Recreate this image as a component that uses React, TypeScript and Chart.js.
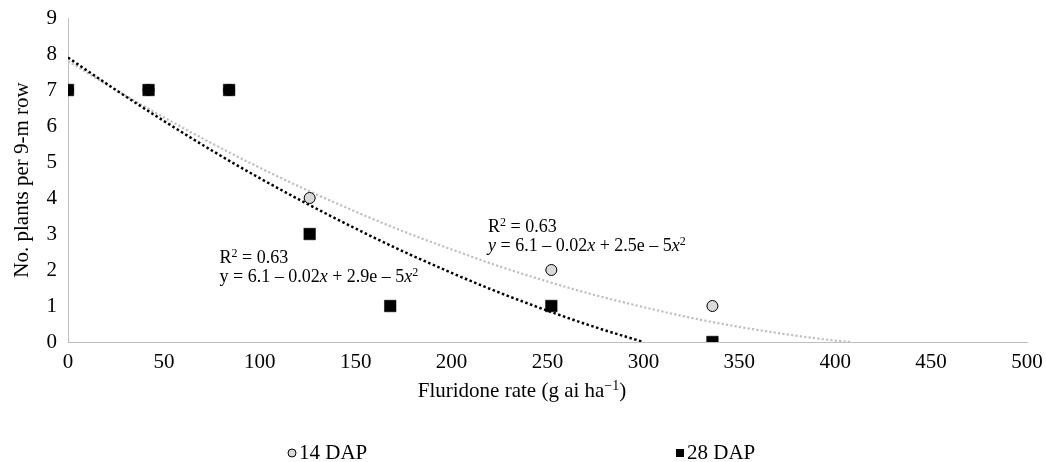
import React, { useEffect, useRef } from "react";
import { Chart, registerables } from "chart.js";
Chart.register(...registerables);

const FONT = "'Liberation Serif', 'Times New Roman', serif";

// Observed data
const dap14Rates = [0, 42, 84, 126, 252, 336];
const dap14Values = [7, 7, 7, 4, 2, 1];
const dap28Rates = [0, 42, 84, 126, 168, 252, 336];
const dap28Values = [7, 7, 7, 3, 1, 1, 0];

// Trend lines
const trend14X = [0, 25, 50, 75, 100, 125, 150, 175, 200, 225, 250, 275, 300, 325, 350, 375, 400, 408];
const trend14Y = [7.8, 7.0, 6.24, 5.52, 4.84, 4.21, 3.62, 3.07, 2.57, 2.1, 1.68, 1.3, 0.97, 0.67, 0.42, 0.21, 0.04, 0.0];
const trend28X = [0, 25, 50, 75, 100, 125, 150, 175, 200, 225, 250, 275, 300];
const trend28Y = [7.9, 7.0, 6.14, 5.32, 4.55, 3.83, 3.15, 2.51, 1.92, 1.37, 0.87, 0.41, 0.0];

// Axis ticks
const xMin = 0, xMax = 500, xStep = 50;
const yMin = 0, yMax = 9, yStep = 1;

type Run = { t: string; italic?: boolean; sup?: boolean };
const xTitleRuns: Run[] = [{ t: "Fluridone rate (g ai ha" }, { t: "\u22121", sup: true }, { t: ")" }];
const yTitle = "No. plants per 9-m row";

const eq28Lines: Run[][] = [
  [{ t: "R" }, { t: "2", sup: true }, { t: " = 0.63" }],
  [{ t: "y = 6.1 \u2013 0.02" }, { t: "x", italic: true }, { t: " + 2.9e \u2013 5" }, { t: "x", italic: true }, { t: "2", sup: true }],
];
const eq14Lines: Run[][] = [
  [{ t: "R" }, { t: "2", sup: true }, { t: " = 0.63" }],
  [{ t: "y", italic: true }, { t: " = 6.1 \u2013 0.02" }, { t: "x", italic: true }, { t: " + 2.5e \u2013 5" }, { t: "x", italic: true }, { t: "2", sup: true }],
];
const eqAnchors = [
  { x: 79, y: 2.2, lines: eq28Lines },
  { x: 219, y: 3.05, lines: eq14Lines },
];

const toPoints = (xs: number[], ys: number[]) => xs.map((x, i) => ({ x, y: ys[i] }));

function drawRuns(ctx: any, runs: Run[], x: number, baseline: number, size: number, measureOnly = false) {
  let cx = x;
  runs.forEach((r) => {
    const fs = r.sup ? Math.round(size * 0.68) : size;
    ctx.font = `${r.italic ? "italic " : ""}${fs}px ${FONT}`;
    if (!measureOnly) ctx.fillText(r.t, cx, r.sup ? baseline - size * 0.34 : baseline);
    cx += ctx.measureText(r.t).width;
  });
  return cx - x;
}

const textPlugin = {
  id: "richText",
  afterDatasetsDraw(chart: any) {
    const { ctx, scales } = chart;
    ctx.save();
    ctx.fillStyle = "#000";
    ctx.textBaseline = "alphabetic";
    ctx.textAlign = "left";
    eqAnchors.forEach((a) => {
      const px = scales.x.getPixelForValue(a.x);
      const py = scales.y.getPixelForValue(a.y);
      a.lines.forEach((line, li) => drawRuns(ctx, line, px, py + li * 19, 18));
    });
    // x-axis title, centred on the canvas as in the original figure
    const w = drawRuns(ctx, xTitleRuns, 0, 0, 21, true);
    drawRuns(ctx, xTitleRuns, chart.width / 2 - w / 2 - 1, 397, 21);
    ctx.restore();
  },
};

const legendPlugin = {
  id: "bottomLegend",
  afterDraw(chart: any) {
    const { ctx } = chart;
    const items = [
      { ds: 0, mx: 292, shape: "circle" },
      { ds: 1, mx: 680, shape: "rect" },
    ];
    const y = 453;
    ctx.save();
    ctx.font = `21px ${FONT}`;
    ctx.textBaseline = "middle";
    ctx.textAlign = "left";
    items.forEach((it) => {
      const d = chart.data.datasets[it.ds];
      if (it.shape === "circle") {
        ctx.beginPath();
        ctx.arc(it.mx, y, 4, 0, Math.PI * 2);
        ctx.fillStyle = d.backgroundColor;
        ctx.fill();
        ctx.lineWidth = 1;
        ctx.strokeStyle = "#000";
        ctx.stroke();
      } else {
        ctx.fillStyle = "#000";
        ctx.fillRect(it.mx - 4, y - 4, 8, 8);
      }
      ctx.fillStyle = "#000";
      ctx.fillText(d.label, it.mx + 7, y);
    });
    ctx.restore();
  },
};

export default function App() {
  const ref = useRef<HTMLCanvasElement>(null);
  useEffect(() => {
    const canvas = ref.current!;
    const tickFont = { family: FONT, size: 21 };
    const chart = new Chart(canvas, {
      type: "scatter",
      data: {
        datasets: [
          {
            label: "14 DAP",
            data: toPoints(dap14Rates, dap14Values),
            pointStyle: "circle",
            pointRadius: 5.5,
            pointHoverRadius: 5.5,
            backgroundColor: "#D9D9D9",
            borderColor: "#000",
            borderWidth: 1,
            order: 1,
          },
          {
            label: "28 DAP",
            data: toPoints(dap28Rates, dap28Values),
            pointStyle: "rect",
            pointRadius: 8.2,
            pointHoverRadius: 8.2,
            backgroundColor: "#000",
            borderColor: "#000",
            borderWidth: 0.5,
            order: 0,
          },
          {
            label: "Trend 14 DAP",
            data: toPoints(trend14X, trend14Y),
            showLine: true,
            pointRadius: 0,
            borderColor: "#BFBFBF",
            borderWidth: 2.2,
            borderDash: [2.2, 2.2],
            cubicInterpolationMode: "monotone",
            order: 3,
          },
          {
            label: "Trend 28 DAP",
            data: toPoints(trend28X, trend28Y),
            showLine: true,
            pointRadius: 0,
            borderColor: "#000",
            borderWidth: 2.5,
            borderDash: [2.5, 2.5],
            cubicInterpolationMode: "monotone",
            order: 2,
          },
        ],
      } as any,
      options: {
        animation: false,
        responsive: false,
        events: [],
        layout: { padding: { left: 0, right: 19, top: 18, bottom: 57 } },
        plugins: {
          legend: { display: false },
          tooltip: { enabled: false },
        },
        scales: {
          x: {
            type: "linear",
            min: xMin,
            max: xMax,
            ticks: { stepSize: xStep, padding: 8, font: tickFont, color: "#000" },
            grid: { display: false, drawTicks: false },
            border: { display: true, color: "#BFBFBF", width: 1 },
            title: { display: false },
            afterFit: (s: any) => { s.height = 63; s.paddingLeft = 0; s.paddingRight = 0; },
          },
          y: {
            type: "linear",
            min: yMin,
            max: yMax,
            ticks: { stepSize: yStep, padding: 11, font: tickFont, color: "#000" },
            grid: { display: false, drawTicks: false },
            border: { display: true, color: "#BFBFBF", width: 1 },
            title: { display: true, text: yTitle, font: tickFont, color: "#000", padding: { top: 10, bottom: 0 } },
            afterFit: (s: any) => { s.width = 68; s.paddingTop = 0; s.paddingBottom = 0; },
          },
        },
      } as any,
      plugins: [textPlugin, legendPlugin],
    });
    return () => chart.destroy();
  }, []);
  return (
    <div style={{ position: "absolute", left: 0, top: 0, width: 1046, height: 462, background: "#fff" }}>
      <canvas ref={ref} width={1046} height={462} style={{ display: "block" }} />
    </div>
  );
}
